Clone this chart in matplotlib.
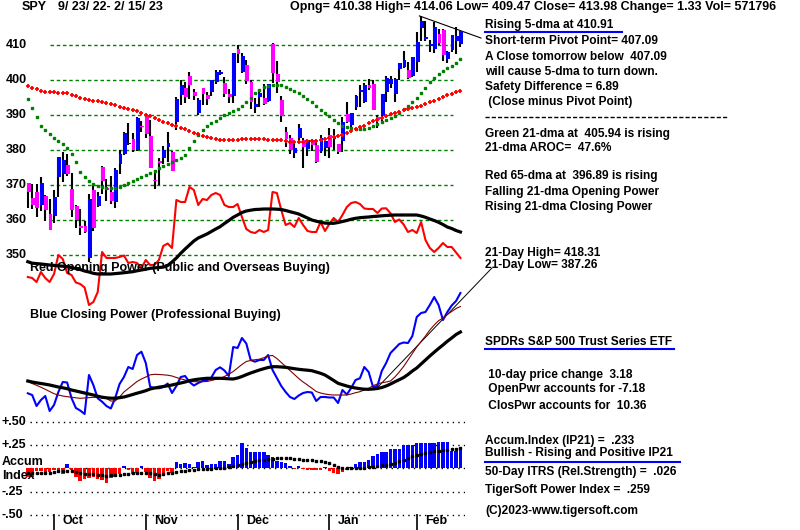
import numpy as np
import matplotlib
matplotlib.use("Agg")
import matplotlib.pyplot as plt
from matplotlib.lines import Line2D

plt.rcParams['font.family'] = ['Liberation Sans', 'DejaVu Sans']
plt.rcParams['font.weight'] = 'bold'

# ---- values (100 sessions, 9/23/22 .. 2/15/23) ----
months = ["Oct", "Nov", "Dec", "Jan", "Feb"]
month_start = [6, 27, 48, 69, 89]
price_ticks = [350, 360, 370, 380, 390, 400, 410]

opens = [370.58, 366.41, 368.02, 364.38, 366.77, 361.80, 361.08, 372.40, 373.25, 375.62,
         368.97, 363.96, 358.24, 358.17, 349.21, 368.55, 364.01, 375.13, 369.20, 368.03,
         365.12, 375.89, 378.79, 381.62, 383.07, 379.87, 386.44, 390.14, 383.90, 371.47,
         377.00, 377.70, 381.00, 379.40, 388.05, 395.60, 397.80, 401.10, 396.60, 390.50,
         397.74, 395.80, 396.60, 399.50, 401.80, 399.10, 396.10, 395.49, 408.77, 402.25,
         404.30, 399.40, 392.20, 395.10, 394.90, 394.10, 410.22, 401.60, 394.30, 385.20,
         383.50, 379.10, 383.40, 383.00, 380.40, 382.80, 381.30, 379.60, 380.60, 384.40,
         383.18, 381.72, 382.60, 390.40, 387.25, 392.20, 396.70, 393.60, 398.50, 399.00,
         389.40, 390.10, 396.70, 398.90, 395.95, 403.10, 403.70, 402.80, 401.10, 405.20,
         414.90, 411.60, 409.80, 408.90, 413.10, 414.40, 405.90, 408.70, 411.20, 410.38]
highs = [370.62, 370.21, 370.40, 372.30, 367.11, 365.91, 368.55, 378.00, 379.46, 378.72,
         373.29, 364.21, 363.03, 359.82, 367.51, 370.26, 367.98, 375.45, 371.85, 372.67,
         374.80, 380.06, 385.25, 387.58, 385.00, 389.52, 388.40, 390.39, 388.63, 374.20,
         377.71, 381.10, 385.10, 379.80, 395.03, 400.00, 399.50, 402.31, 397.50, 394.90,
         397.80, 396.60, 400.10, 403.00, 402.90, 400.80, 397.30, 407.68, 410.00, 407.85,
         405.60, 400.00, 395.00, 397.40, 398.80, 399.00, 410.49, 405.50, 395.30, 386.60,
         384.30, 382.00, 387.40, 383.30, 383.00, 383.10, 383.00, 384.40, 382.60, 386.40,
         385.88, 381.84, 389.30, 393.70, 390.65, 395.60, 398.50, 399.10, 400.20, 400.10,
         390.00, 396.00, 401.10, 401.20, 400.70, 404.90, 408.20, 405.10, 406.50, 413.70,
         418.31, 416.97, 411.30, 416.50, 414.50, 414.50, 408.40, 412.90, 415.05, 414.06]
lows = [363.29, 363.03, 360.87, 362.60, 359.70, 357.04, 359.21, 366.57, 370.95, 372.68,
        360.94, 357.67, 355.71, 356.30, 348.11, 356.96, 363.70, 367.52, 365.55, 364.61,
        363.54, 373.11, 378.67, 381.35, 379.33, 379.68, 385.26, 383.29, 374.76, 368.79,
        369.91, 376.00, 376.60, 374.00, 385.64, 393.00, 393.30, 394.50, 394.30, 389.90,
        393.00, 393.00, 395.40, 399.00, 401.50, 395.10, 393.30, 393.48, 404.75, 401.90,
        398.90, 391.80, 390.50, 392.20, 392.90, 393.60, 399.07, 396.30, 387.95, 381.00,
        379.00, 377.60, 382.70, 374.90, 378.40, 379.60, 376.40, 379.10, 378.40, 377.80,
        380.00, 378.76, 379.40, 387.70, 386.27, 391.40, 392.40, 393.30, 397.10, 391.30,
        386.40, 388.40, 393.60, 397.60, 393.60, 400.00, 403.40, 400.30, 400.80, 402.40,
        411.20, 411.10, 408.10, 407.60, 409.90, 405.30, 405.00, 408.10, 407.50, 409.47]
closes = [367.95, 364.31, 363.38, 370.53, 362.79, 357.18, 366.61, 377.97, 377.09, 373.20,
          362.79, 360.02, 357.74, 356.56, 365.97, 357.63, 366.82, 371.13, 368.50, 365.41,
          374.29, 378.87, 384.92, 382.02, 379.98, 389.02, 386.21, 384.52, 374.87, 371.01,
          376.35, 379.95, 382.00, 374.13, 394.69, 398.51, 395.12, 398.49, 395.45, 394.24,
          396.03, 394.59, 399.90, 402.42, 402.33, 395.91, 395.23, 407.68, 407.38, 406.91,
          399.59, 393.83, 393.16, 396.24, 393.28, 398.95, 401.97, 399.40, 389.63, 383.27,
          380.02, 380.54, 386.23, 380.72, 382.91, 381.40, 376.66, 383.44, 382.43, 380.82,
          383.76, 379.38, 388.08, 387.86, 390.58, 395.52, 396.96, 398.50, 397.77, 391.49,
          388.64, 395.88, 400.63, 400.20, 400.35, 404.75, 405.68, 400.59, 406.48, 410.80,
          416.78, 412.35, 409.83, 415.19, 410.65, 407.09, 408.04, 412.83, 412.64, 413.98]

ma21 = [394.5, 392.0, 389.5, 387.0, 385.8, 384.5, 383.5, 382.5, 381.6, 380.7,
        379.0, 376.6, 373.8, 372.3, 371.2, 370.4, 369.8, 369.4, 369.2, 369.1,
        369.2, 369.4, 369.9, 370.7, 371.2, 371.8, 372.3, 372.8, 373.3, 373.9,
        374.8, 375.5, 376.1, 376.6, 377.2, 377.8, 378.6, 380.5, 382.7, 384.4,
        385.8, 386.8, 387.6, 388.4, 389.2, 389.9, 390.5, 391.1, 391.8, 392.6,
        393.6, 395.0, 396.2, 397.2, 397.9, 398.4, 398.6, 398.6, 398.5, 398.0,
        397.5, 396.9, 396.2, 395.5, 394.6, 393.7, 392.6, 391.5, 390.5, 389.6,
        388.6, 387.8, 387.0, 386.5, 386.2, 386.0, 386.0, 386.1, 386.3, 386.8,
        387.4, 387.9, 388.5, 389.1, 389.8, 390.6, 391.6, 392.6, 393.7, 395.0,
        396.4, 397.8, 399.3, 400.5, 401.6, 402.5, 403.3, 404.1, 404.9, 405.94]
ma65 = [398.3, 397.8, 397.3, 396.9, 396.7, 396.6, 396.5, 396.4, 396.3, 396.2,
        395.8, 395.3, 394.8, 394.5, 394.3, 394.1, 393.9, 393.7, 393.5, 393.2,
        392.8, 392.4, 392.0, 391.7, 391.4, 391.1, 390.6, 390.1, 389.7, 389.2,
        388.6, 388.1, 387.6, 387.2, 386.8, 386.4, 386.0, 385.5, 385.0, 384.5,
        384.1, 383.7, 383.4, 383.2, 383.0, 382.9, 382.9, 383.0, 383.0, 383.1,
        383.1, 383.1, 383.1, 383.1, 383.1, 383.0, 383.0, 382.9, 382.8, 382.6,
        382.4, 382.4, 382.4, 382.4, 382.5, 382.6, 382.7, 382.8, 383.1, 383.3,
        383.6, 384.0, 384.4, 384.9, 385.4, 385.9, 386.5, 387.0, 387.6, 388.2,
        388.7, 389.2, 389.8, 390.2, 390.6, 390.9, 391.3, 391.6, 392.0, 392.3,
        392.7, 393.2, 393.6, 394.1, 394.6, 395.1, 395.6, 396.0, 396.5, 396.89]

open_pwr = [43, 42, 38, 48, 42, 38, 46, 65, 61, 47,
            45, 37.5, 36, 32.5, 15, 18, 28, 68, 62, 62,
            62, 63, 64.5, 57, 58, 57, 52, 60, 55, 55,
            60, 74, 76.5, 72, 120, 118, 118, 133, 130, 115,
            121, 120, 125, 127, 125, 115, 113, 113, 116, 103,
            91, 88, 87, 90, 88, 90, 128, 127, 110, 95,
            97, 93, 102, 95, 89, 88, 88, 98, 89, 96,
            102, 98, 105, 113, 117, 118, 116, 111.5, 111, 111,
            107, 111.5, 111.7, 106.7, 98, 100.5, 95.5, 88, 90, 87,
            98, 80, 72, 68, 72, 77, 73, 73, 67.5, 62]
open_pwr_ma = [58.3, 56.8, 56.4, 56, 55.5, 55, 54.6, 54.2, 53.8, 53.3,
               52.4, 51.5, 50.5, 49, 48, 46.7, 46, 46, 46, 46,
               46.4, 46.8, 47.3, 47.8, 48.3, 49.2, 50, 50.8, 51.7, 52.1,
               52.5, 52.9, 54.5, 58, 62, 66.7, 71, 75, 79, 82,
               84, 86, 88.5, 91, 93.3, 96.5, 99.5, 102.7, 105, 107.5,
               109, 109.8, 110.5, 110.7, 111, 111, 111, 110.8, 110.5, 109.5,
               108.3, 107.2, 106, 104, 102, 100, 98.8, 97.8, 96.9, 96.7,
               96.7, 97.5, 98.5, 99.5, 100.8, 101.7, 102.3, 102.7, 103, 103.5,
               103.8, 104.2, 104.5, 104.8, 105, 105, 105, 105, 105, 105,
               104, 102.7, 101, 99.5, 97.7, 95.5, 93, 91.5, 89.5, 88]

clos_pwr = [26.7, 25, 14, 20, 24, 9, 15, 28, 38, 37.5,
            22, 12, 9.5, 6, 45, 35, 21.7, 18.3, 14, 11.5,
            22, 36, 43, 53, 51, 65, 68.3, 57, 33.3, 32,
            31.7, 33, 36.5, 27, 34, 43, 44, 38, 34.5, 37,
            39, 39.5, 42.5, 50, 52.7, 49.5, 44, 73, 72, 82,
            76.5, 60, 58.3, 60, 60, 65, 50, 42, 34, 28,
            23, 21, 24.5, 27, 28, 27.5, 19, 23, 23, 22.5,
            22.5, 17, 30, 25.5, 32, 40, 41.7, 53, 48, 33,
            34, 49, 57, 67, 71.5, 76, 77.5, 77, 84, 103,
            107, 108, 115, 123, 115, 100, 108, 114.5, 119, 127]
clos_pwr_ma = [39, 38, 37.2, 36.5, 35.8, 35, 34, 33, 32.2, 31.3,
               30, 29, 28, 27, 26, 25, 23.8, 22.8, 22.2, 21.8,
               21.8, 22.3, 23, 24.2, 25.5, 26.8, 28, 29.3, 31, 32,
               32.8, 33.5, 34.2, 35, 36, 37, 38, 39.3, 40.2, 40.8,
               41.3, 41.7, 41.7, 41.7, 41.7, 41.5, 41.2, 41, 42, 43.5,
               45.3, 47, 48.5, 50, 51.3, 52.5, 53.3, 53.3, 53, 52.7,
               52, 51.3, 50.7, 50.2, 49.8, 49.3, 48, 46.7, 45, 42.3,
               39.5, 36.7, 35.3, 34, 32.8, 32, 31.3, 30.8, 30.7, 31,
               31.5, 32.5, 34, 36, 38.2, 40.3, 42.5, 45.5, 49, 52,
               56, 60, 64, 67.8, 71.5, 75, 78.7, 82, 85.5, 88]
clos_pwr_ma2 = [38.3, 36.5, 34.7, 32.8, 30.7, 28.5, 26.3, 25, 24, 23.3,
                22.8, 22.2, 21.7, 22, 22.4, 22.7, 22.5, 22.2, 21.6, 19,
                19, 23, 28, 31.5, 35, 38.5, 41, 43, 45.2, 45.7,
                45.5, 45.2, 44.8, 44, 42.5, 41.2, 40, 38.8, 38.3, 38.3,
                38.3, 38.5, 39.5, 40.6, 41.7, 43.5, 45.8, 48.5, 52, 55.5,
                58.5, 59.5, 60.3, 60.8, 62.3, 64, 64.5, 61.5, 57.5, 53.5,
                49.5, 45.5, 41.5, 38, 35, 31.8, 28.5, 27, 26, 25.3,
                25, 25, 25, 25, 26, 27.3, 28.3, 30, 31.7, 34.3,
                36, 37.2, 38, 39, 43, 48, 53.5, 60, 66.5, 73,
                78.5, 84, 90, 95, 99.3, 102, 105.5, 108.5, 111.5, 113.5]

accum = [-0.09, -0.09, -0.03, -0.03, -0.04, -0.04, -0.02, -0.05, -0.06, 0.05,
         -0.02, -0.09, -0.14, -0.12, -0.10, -0.09, -0.12, -0.13, -0.16, -0.10,
         -0.09, -0.06, 0.03, -0.02, -0.06, -0.05, 0.03, -0.04, -0.10, -0.14,
         -0.12, -0.07, -0.03, -0.05, 0.07, 0.05, 0.06, 0.05, 0.01, 0.07,
         0.08, 0.04, 0.05, 0.05, 0.08, 0.08, 0.05, 0.12, 0.14, 0.27,
         0.22, 0.18, 0.17, 0.17, 0.17, 0.14, 0.12, 0.08, 0.07, 0.06,
         0.02, -0.01, 0.03, -0.01, -0.02, -0.02, -0.02, -0.02, 0.01, -0.03,
         -0.05, -0.06, -0.04, -0.02, 0.01, 0.05, 0.07, 0.07, 0.09, 0.13,
         0.15, 0.18, 0.18, 0.21, 0.21, 0.21, 0.25, 0.25, 0.25, 0.27,
         0.27, 0.27, 0.27, 0.27, 0.28, 0.28, 0.28, 0.19, 0.19, 0.233]
accum_ma = [-0.047, -0.047, -0.047, -0.047, -0.047, -0.047, -0.040, -0.033, -0.028, -0.025,
            -0.033, -0.041, -0.049, -0.057, -0.062, -0.066, -0.071, -0.075, -0.080, -0.077,
            -0.073, -0.068, -0.063, -0.058, -0.055, -0.052, -0.049, -0.047, -0.054, -0.062,
            -0.069, -0.062, -0.054, -0.047, -0.040, -0.034, -0.028, -0.022, -0.016, -0.011,
            -0.009, -0.006, -0.004, -0.002, 0.000, 0.008, 0.016, 0.024, 0.032, 0.042,
            0.054, 0.066, 0.078, 0.089, 0.094, 0.099, 0.104, 0.107, 0.107, 0.107,
            0.107, 0.103, 0.099, 0.094, 0.090, 0.085, 0.080, 0.075, 0.070, 0.052,
            0.033, 0.017, 0.006, 0.000, 0.000, 0.000, 0.000, 0.006, 0.013, 0.019,
            0.025, 0.033, 0.040, 0.048, 0.058, 0.076, 0.094, 0.112, 0.130, 0.142,
            0.154, 0.166, 0.175, 0.182, 0.189, 0.196, 0.201, 0.205, 0.209, 0.214]
accum_levels = [0.50, 0.25, 0.0, -0.25, -0.50]
accum_labels = ["+.50", "+.25", None, "-.25", "-.50"]

# ---- layout (pixels of an 800x530 image) ----
W, H = 800, 530
X_FIRST, DX = 27.8, 4.37
PX_L, PX_R = 25, 465
xlim = ((PX_L - X_FIRST) / DX, (PX_R - X_FIRST) / DX)

fig = plt.figure(figsize=(W / 100, H / 100), dpi=100)
fig.patch.set_facecolor('white')


def panel(top, bottom, ylim):
    ax = fig.add_axes([PX_L / W, 1 - bottom / H, (PX_R - PX_L) / W, (bottom - top) / H])
    ax.set_xlim(*xlim)
    ax.set_ylim(*ylim)
    ax.axis('off')
    ax.patch.set_visible(False)
    return ax


def px2day(px):
    return (px - X_FIRST) / DX


def ftext(x, y, s, **kw):
    kw.setdefault('fontsize', 8.6)
    kw.setdefault('va', 'center')
    return fig.text(x / W, 1 - y / H, s, **kw)


def fline(x0, x1, y0, y1, **kw):
    fig.add_artist(Line2D([x0 / W, x1 / W], [1 - y0 / H, 1 - y1 / H],
                          transform=fig.transFigure, **kw))


days = np.arange(len(closes))
o = np.array(opens)
c = np.array(closes)

# price panel: 410 at y=45px, 3.5 px per dollar
ax_p = panel(0, 270, (410 - 225 / 3.5, 410 + 45 / 3.5))
ax_op = panel(180, 320, (0, 140))
ax_cp = panel(280, 420, (0, 140))
acc_zero, acc_scale = 468.3, 93.2
ax_a = panel(410, 530, ((acc_zero - 530) / acc_scale, (acc_zero - 410) / acc_scale))

# price grid and labels
ax_p.hlines(price_ticks, px2day(50), px2day(453), colors='#008000',
            linestyles=(0, (2.5, 2)), lw=1)
for t in price_ticks:
    ftext(6, 45 + (410 - t) * 3.5, str(t), fontsize=9)

# candles
ax_p.vlines(days, lows, highs, colors='black', lw=1.5)
up = c >= o
body_col = np.where(up, '#0000FF', '#FF00FF')
height = np.where(np.abs(c - o) < 0.4, 0.4, c - o)
ax_p.bar(days + 0.2, height, bottom=o, width=0.88, color=body_col, zorder=3)

ax_p.plot(days, ma21, ls='none', marker='s', ms=1.7, color='#008000', zorder=4)
ax_p.plot(days, ma65, ls='none', marker='+', ms=3.4, mew=1.3, color='#FF0000', zorder=4)
ax_p.plot([89.6, 103.7], [418.31, 412.0], color='black', lw=0.8, clip_on=False)

# opening power
ax_op.plot(days, open_pwr, color='#FF0000', lw=1.5, zorder=3)
ax_op.plot(days, open_pwr_ma, color='black', lw=2.3, zorder=3)

# closing power
ax_cp.plot(days, clos_pwr, color='#0000FF', lw=1.5, zorder=3)
ax_cp.plot(days, clos_pwr_ma2, color='#800000', lw=0.8, zorder=3)
ax_cp.plot(days, clos_pwr_ma, color='black', lw=2.3, zorder=3)
ax_cp.plot([79.9, 106.2], [32, 152], color='black', lw=0.7, clip_on=False)

ftext(30, 268, "Red Opening Power (Public and Overseas Buying)", fontsize=9)
ftext(30, 315, "Blue Closing Power (Professional Buying)", fontsize=9)

# accumulation index
ax_a.hlines(accum_levels, px2day(30), px2day(468), colors='black',
            linestyles=(0, (1, 3)), lw=1)
acc = np.array(accum)
ax_a.bar(days, acc, width=0.8, color=np.where(acc >= 0, '#0000FF', '#FF0000'), zorder=3)
ax_a.plot(days, accum_ma, ls='none', marker='s', ms=1.5, color='black', zorder=4)
for lev, lab in zip(accum_levels, accum_labels):
    if lab:
        ftext(2, acc_zero - lev * acc_scale, lab, fontsize=9)
ftext(2, 462, "Accum", fontsize=9)
ftext(2, 476, "Index", fontsize=9)

# month axis
ax_a.vlines(month_start, (acc_zero - 530) / acc_scale, (acc_zero - 514) / acc_scale,
            colors='black', lw=1.2, clip_on=False)
for m, s in zip(month_start, months):
    ax_a.text(m + 2.0, (acc_zero - 521) / acc_scale, s, fontsize=9, va='center',
              ha='left', clip_on=False)

# header
ftext(22, 7, "SPY", fontsize=9)
ftext(58, 7, "9/ 23/ 22- 2/ 15/ 23", fontsize=9)
ftext(290, 7, "Opng= 410.38 High= 414.06 Low= 409.47 Close= 413.98 Change= 1.33 Vol= 571796",
      fontsize=9)

# right-hand notes
X = 485
notes = [
    (25, "Rising 5-dma at 410.91"),
    (41, "Short-term Pivot Point= 407.09"),
    (57, "A Close tomorrow below  407.09"),
    (72, "will cause 5-dma to turn down."),
    (87, "Safety Difference = 6.89"),
    (102, " (Close minus Pivot Point)"),
    (134, "Green 21-dma at  405.94 is rising"),
    (148, "21-dma AROC=  47.6%"),
    (176, "Red 65-dma at  396.89 is rising"),
    (192, "Falling 21-dma Opening Power"),
    (207, "Rising 21-dma Closing Power"),
    (253, "21-Day High= 418.31"),
    (265, "21-Day Low= 387.26"),
    (342, "SPDRs S&P 500 Trust Series ETF"),
    (375, " 10-day price change  3.18"),
    (389, " OpenPwr accounts for -7.18"),
    (406, " ClosPwr accounts for  10.36"),
    (441, "Accum.Index (IP21) =  .233"),
    (453, "Bullish - Rising and Positive IP21"),
    (472, "50-Day ITRS (Rel.Strength) =  .026"),
    (490, "TigerSoft Power Index =  .259"),
    (511, "(C)2023-www.tigersoft.com"),
]
for y, s in notes:
    ftext(X, y, s)

fline(X, 622, 32, 32, color='#0000FF', lw=1.5)
fline(X, 674, 349, 349, color='#0000FF', lw=1.5)
fline(X, 680, 462, 462, color='#0000FF', lw=1.5)
fline(X, 728, 117, 117, color='black', lw=1, ls=(0, (3, 1.5)))

fig.savefig("out.png", dpi=100)
